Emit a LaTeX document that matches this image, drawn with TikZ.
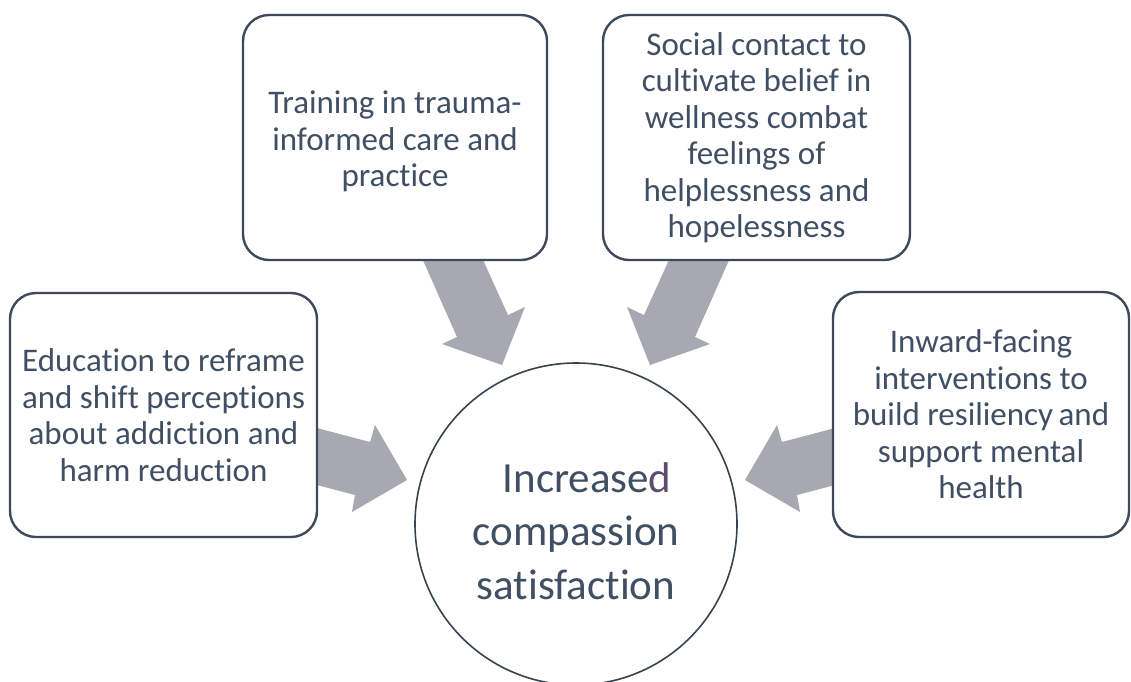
\documentclass[tikz,border=0pt]{standalone}
\usepackage{fontspec}
\setmainfont{Carlito}[Ligatures=NoCommon]
\definecolor{txt}{HTML}{404F63}
\definecolor{edge}{HTML}{3E4A5A}
\definecolor{arr}{HTML}{A6A9B1}
\definecolor{dpurple}{HTML}{5D4B72}
\tikzset{
  box/.style={draw=edge, line width=2.4pt, rounded corners=26pt, fill=white,
    text=txt, align=center, font=\fontsize{33}{36.5}\selectfont, inner sep=0pt},
  boxtext/.style={text=txt, align=center, font=\fontsize{33}{36.5}\selectfont, inner sep=0pt},
  hub/.style={circle, draw=edge!90!black, line width=1.6pt, fill=white, inner sep=0pt},
  hubtext/.style={text=txt, align=center, font=\fontsize{43}{53.5}\selectfont, inner sep=0pt},
  blockarrow/.style={fill=arr, draw=none}
}
\begin{document}
\begin{tikzpicture}[x=1pt,y=-1pt]
\useasboundingbox (0,0) rectangle (1131,681);
\fill[white] (0,0) rectangle (1131,681);

% block arrows
\fill[blockarrow] (298,423) -- (370,442) -- (375,425) -- (407,480) -- (352,512) -- (355,495) -- (298,480) -- cycle;
\fill[blockarrow] (854,423) -- (782,442) -- (777,425) -- (745,480) -- (800,512) -- (797,495) -- (854,480) -- cycle;
\fill[blockarrow] (414,240) -- (457,337) -- (442,344) -- (502,365) -- (525,307) -- (508,315) -- (474,240) -- cycle;
\fill[blockarrow] (738,240) -- (695,337) -- (710,344) -- (650,365) -- (627,307) -- (644,315) -- (678,240) -- cycle;

% boxes
\node[box, minimum width=307pt, minimum height=244pt] (A) at (163.5,415)
  {Education to reframe\\and shift perceptions\\about addiction and\\harm reduction};
\node[box, minimum width=304pt, minimum height=245pt] (B) at (395,137.5) {};
\node[boxtext] (Bt) at ([yshift=-4pt]B.center)
  {Training in trauma-\\informed care and\\practice};
\node[box, minimum width=307pt, minimum height=245pt] (C) at (756.5,137.5)
  {Social contact to\\cultivate belief in\\wellness combat\\feelings of\\helplessness and\\hopelessness};
\node[box, minimum width=296pt, minimum height=245pt] (D) at (981,414.5)
  {Inward-facing\\interventions to\\build resiliency\,and\\support mental\\health};

% hub
\node[hub, minimum size=322pt] (H) at (576,524) {};
\node[hubtext] (Ht) at ([yshift=-7pt]H.center)
  {\hspace*{22pt}Increase{\color{dpurple}d}\\compassion\\satisfaction};
\end{tikzpicture}
\end{document}
